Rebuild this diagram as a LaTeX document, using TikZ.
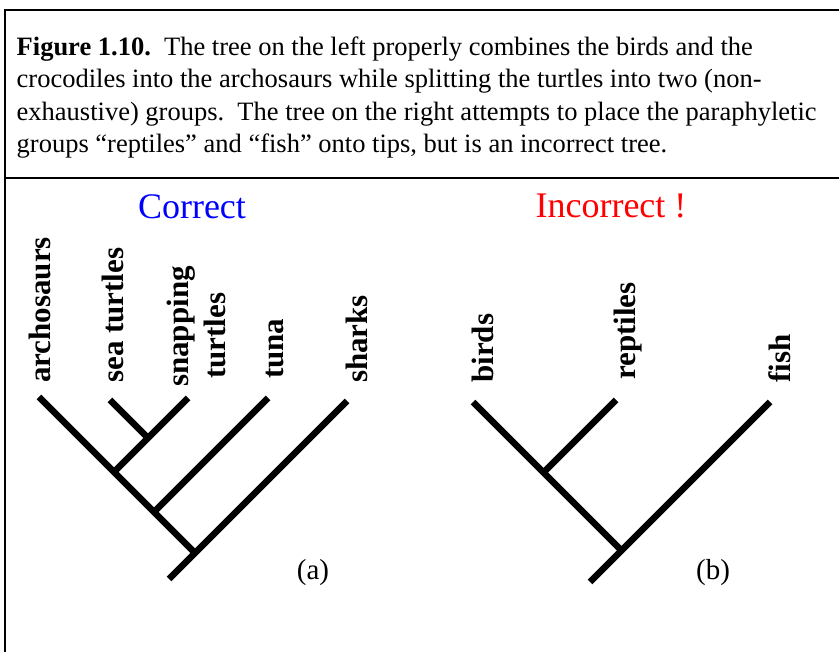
\documentclass[tikz,border=0pt]{standalone}
\usepackage{fontspec}
\setmainfont{Liberation Serif}
\begin{document}
\begin{tikzpicture}[x=1pt,y=-1pt,
  capline/.style={anchor=base west,inner sep=0pt,font=\fontsize{26.5}{30}\selectfont},
  ttl/.style={anchor=base,inner sep=0pt,font=\fontsize{36}{40}\selectfont},
  taxon/.style={anchor=base west,rotate=90,inner sep=0pt,font=\fontsize{31}{34}\selectfont\bfseries},
  sub/.style={inner sep=0pt,font=\fontsize{29}{32}\selectfont},
  branch/.style={line width=6.5pt,line cap=butt},
  frame/.style={line width=2.6pt}]
\useasboundingbox (0,0) rectangle (839,652);
% frame
\coordinate (ftl) at (5,10);
\coordinate (ftr) at (839,10);
\coordinate (fbl) at (5,652);
\coordinate (dl) at (5,178);
\coordinate (dr) at (839,178);
\draw[frame] (ftr) -- (ftl) -- (fbl);
\draw[frame] (dl) -- (dr);
% caption
\node[capline] (c1) at (16.5,55.5) {\textbf{Figure 1.10.}\ \ The tree on the left properly combines the birds and the};
\node[capline] (c2) at (16.5,88) {crocodiles into the archosaurs while splitting the turtles into two (non-};
\node[capline] (c3) at (16.5,120.5) {exhaustive) groups.\ \ The tree on the right attempts to place the paraphyletic};
\node[capline] (c4) at (16.5,153) {groups “reptiles” and “fish” onto tips, but is an incorrect tree.};
% titles
\node[ttl,text={rgb,255:red,0;green,0;blue,255}] (tA) at (192,219) {Correct};
\node[ttl,text={rgb,255:red,255;green,0;blue,0}] (tB) at (611,218) {Incorrect !};
% left tree labels
\node[taxon] (lArch) at (50,383) {archosaurs};
\node[taxon] (lSea) at (123,383) {sea turtles};
\node[taxon] (lSnap) at (188,387) {snapping};
\node[taxon] (lTurt) at (225,379) {turtles};
\node[taxon] (lTuna) at (283,379) {tuna};
\node[taxon] (lShark) at (367,383) {sharks};
% left tree
\coordinate (aArch) at (39,397);
\coordinate (aSea) at (110,400);
\coordinate (aSnap) at (188,398);
\coordinate (aTuna) at (268,398);
\coordinate (aShark) at (347,401);
\coordinate (nST) at (148,438);
\coordinate (nTurt) at (114,472);
\coordinate (nTuna) at (154,512);
\coordinate (nRoot) at (195,553);
\coordinate (aBase) at (169,579);
\draw[branch] (aArch) -- (nRoot);
\draw[branch] (aShark) -- (aBase);
\draw[branch] (aTuna) -- (nTuna);
\draw[branch] (aSnap) -- (nTurt);
\draw[branch] (aSea) -- (nST);
\node[sub] (la) at (313,573) {(a)};
% right tree labels
\node[taxon] (lBird) at (493,383) {birds};
\node[taxon] (lRep) at (635,380) {reptiles};
\node[taxon] (lFish) at (790,383) {fish};
% right tree
\coordinate (bBird) at (473,402);
\coordinate (bRep) at (616,400);
\coordinate (bFish) at (770,402);
\coordinate (mRep) at (543.5,472.5);
\coordinate (mRoot) at (621.5,550.5);
\coordinate (bBase) at (590,582);
\draw[branch] (bBird) -- (mRoot);
\draw[branch] (bFish) -- (bBase);
\draw[branch] (bRep) -- (mRep);
\node[sub] (lb) at (713,573) {(b)};
\end{tikzpicture}
\end{document}
